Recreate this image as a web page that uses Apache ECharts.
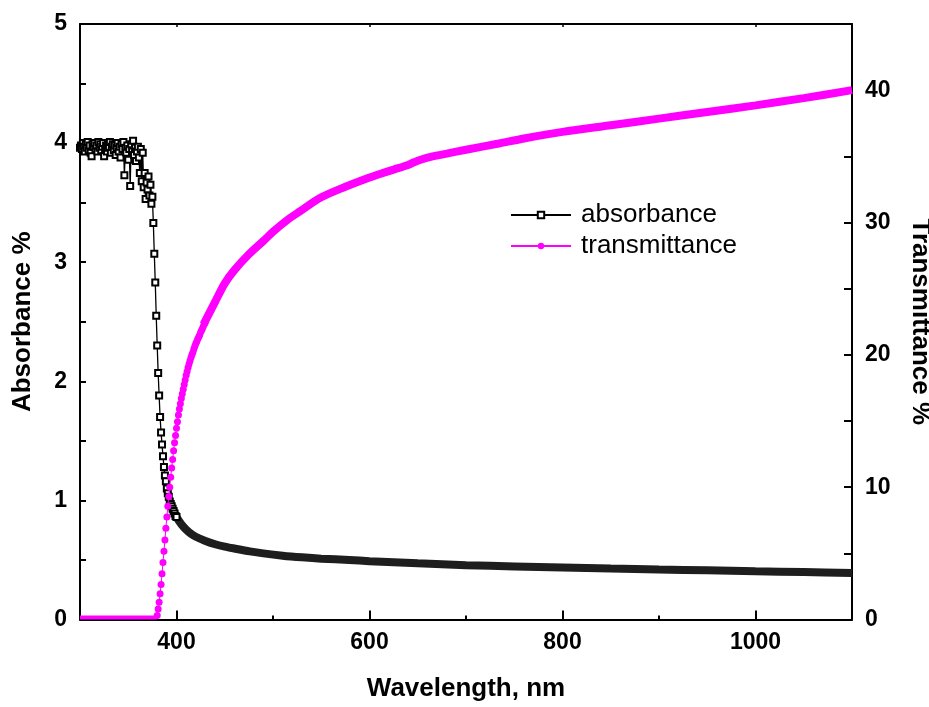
<!DOCTYPE html>
<html>
<head>
<meta charset="utf-8">
<script src="https://cdn.jsdelivr.net/npm/echarts@6.0.0/dist/echarts.min.js"></script>
<style>
html,body{margin:0;padding:0;background:#fff;overflow:hidden;}
#chart{width:929px;height:707px;}
</style>
</head>
<body>
<div id="chart"></div>
<script>
// ---- data ----
// absorbance, individual markers sampled every 1 nm starting at 300 nm
const absPointsStartNm = 300;
const absPointsStepNm = 1;
const absPoints = [
  3.96, 3.98, 3.95, 4.00, 3.97, 3.93, 3.99, 3.96, 4.01, 3.94,
  3.98, 3.92, 3.89, 3.99, 3.97, 4.00, 3.95, 3.98, 3.93, 4.01,
  3.96, 3.99, 3.94, 3.97, 4.00, 3.89, 3.95, 3.98, 3.93, 3.99,
  3.96, 4.01, 3.92, 3.97, 3.99, 3.94, 3.98, 3.90, 3.96, 4.00,
  3.93, 3.97, 3.88, 3.99, 3.95, 4.01, 3.73, 3.96, 3.92, 3.98,
  3.86, 3.95, 3.64, 3.99, 3.93, 4.02, 3.90, 3.96, 3.85, 3.93,
  3.97, 3.88, 3.75, 3.95, 3.68, 3.92, 3.63, 3.75, 3.53, 3.67,
  3.61, 3.72, 3.56, 3.65, 3.49, 3.55, 3.33, 3.07, 2.83, 2.55,
  2.30, 2.07, 1.88, 1.70, 1.57, 1.47, 1.37, 1.28, 1.21, 1.16,
  1.10, 1.06, 1.03, 0.99, 0.97, 0.95, 0.93, 0.91, 0.89, 0.87,
  0.86
];
// absorbance, dense part where the markers merge into a band
const absBandNm  = [396, 400, 405, 410, 415, 420, 430, 441, 450, 460, 476, 490, 510, 530, 550, 579, 600, 650, 700, 750, 800, 850, 900, 950, 1000, 1050, 1100];
const absBandVal = [0.93, 0.86, 0.80, 0.755, 0.72, 0.695, 0.66, 0.63, 0.612, 0.596, 0.572, 0.555, 0.536, 0.522, 0.511, 0.50, 0.49, 0.472, 0.456, 0.446, 0.437, 0.428, 0.42, 0.413, 0.405, 0.398, 0.39];

// transmittance, flat part before the edge
const trFlatNm  = [300, 320, 340, 360, 380];
const trFlatVal = [0.15, 0.15, 0.15, 0.15, 0.15];
// transmittance, individual markers sampled every 1 nm starting at 380 nm
const trPointsStartNm = 380;
const trPointsStepNm = 1;
const trPoints = [
  0.3, 0.8, 1.3, 1.95, 2.65, 3.45, 4.3, 5.15, 6.0, 6.9,
  7.75, 8.55, 9.3, 10.0, 10.75, 11.45, 12.1, 12.75, 13.35, 13.9,
  14.45, 14.95, 15.45, 15.9, 16.3, 16.7, 17.05, 17.4, 17.75, 18.1,
  18.45, 18.75, 19.05, 19.3, 19.55, 19.8, 20.0, 20.2, 20.45, 20.65,
  20.85, 21.0, 21.2, 21.35, 21.5, 21.7, 21.85, 22.0, 22.2, 22.35, 22.5
];
// transmittance, dense band
const trBandNm  = [428, 440, 450, 460, 475, 490, 500, 515, 527, 550, 575, 600, 610, 625, 640, 646, 660, 680, 700, 734, 760, 800, 850, 900, 950, 1000, 1050, 1100];
const trBandVal = [22.3, 24.0, 25.4, 26.4, 27.6, 28.6, 29.3, 30.2, 30.8, 31.9, 32.7, 33.4, 33.65, 34.0, 34.35, 34.55, 34.9, 35.2, 35.5, 35.97, 36.35, 36.85, 37.35, 37.85, 38.35, 38.85, 39.4, 40.0];

// axis ticks / labels
const xMajorTicks = [400, 600, 800, 1000];
const xMinorTicks = [500, 700, 900];
const legendNames = ['absorbance', 'transmittance'];

// ---- build ----
function sampled(start, step, vals) { return vals.map((v, i) => [start + i * step, v]); }
function paired(xs, ys) { return xs.map((x, i) => [x, ys[i]]); }

const FONT = 'Liberation Sans, Arial, Helvetica, sans-serif';
const MAG = '#ff00ff';
const axisLineStyle = { color: '#000', width: 2 };
const labelStyle = { color: '#000', fontSize: 23, fontWeight: 'bold', fontFamily: FONT };
const nameStyle = { color: '#000', fontSize: 26, fontWeight: 'bold', fontFamily: FONT };

const chart = echarts.init(document.getElementById('chart'), null, { renderer: 'canvas', width: 929, height: 707 });
chart.setOption({
  animation: false,
  backgroundColor: '#fff',
  grid: { left: 80, right: 77, top: 24, bottom: 87.5, containLabel: false, outerBoundsMode: 'none' },
  legend: {
    data: legendNames,
    orient: 'vertical',
    left: 505, top: 197,
    itemWidth: 60, itemHeight: 8, itemGap: 5,
    textStyle: { color: '#000', fontSize: 26, fontFamily: FONT, padding: [0, 0, 0, 5] }
  },
  xAxis: [
    {
      type: 'value', min: 300, max: 1100, interval: 100, position: 'bottom',
      name: 'Wavelength, nm', nameLocation: 'middle', nameGap: 56, nameTextStyle: nameStyle,
      axisLine: { lineStyle: axisLineStyle },
      axisTick: { inside: true, length: 9, customValues: xMajorTicks, lineStyle: { color: '#000', width: 2 } },
      axisLabel: Object.assign({ customValues: xMajorTicks, margin: 12, formatter: v => String(v) }, labelStyle),
      splitLine: { show: false }
    },
    {
      type: 'value', min: 300, max: 1100, interval: 100, position: 'bottom',
      axisLine: { show: false },
      axisTick: { inside: true, length: 4, customValues: xMinorTicks, lineStyle: { color: '#000', width: 2 } },
      axisLabel: { show: false },
      splitLine: { show: false }
    },
    {
      type: 'value', min: 300, max: 1100, interval: 100, position: 'top',
      axisLine: { lineStyle: axisLineStyle },
      axisTick: { inside: true, length: 3, customValues: xMajorTicks, lineStyle: { color: '#000', width: 1.5 } },
      axisLabel: { show: false },
      splitLine: { show: false }
    }
  ],
  yAxis: [
    {
      type: 'value', min: 0, max: 5, interval: 0.5, position: 'left',
      name: 'Absorbance %', nameLocation: 'middle', nameGap: 44, nameTextStyle: nameStyle,
      axisLine: { lineStyle: axisLineStyle },
      axisTick: { inside: true, length: 6, lineStyle: { color: '#000', width: 2 } },
      axisLabel: Object.assign({ margin: 13, formatter: v => (Number.isInteger(v) ? String(v) : '') }, labelStyle),
      splitLine: { show: false }
    },
    {
      type: 'value', min: 0, max: 45, interval: 5, position: 'right',
      name: 'Transmittance %', nameLocation: 'middle', nameRotate: -90, nameGap: 55, nameTextStyle: nameStyle,
      axisLine: { lineStyle: axisLineStyle },
      axisTick: { inside: true, length: 8, lineStyle: { color: '#000', width: 2 } },
      axisLabel: Object.assign({ margin: 13, formatter: v => (v % 10 === 0 ? String(v) : '') }, labelStyle),
      splitLine: { show: false }
    }
  ],
  series: [
    {
      name: 'absorbance', type: 'line', xAxisIndex: 0, yAxisIndex: 0,
      data: sampled(absPointsStartNm, absPointsStepNm, absPoints),
      symbol: 'emptyRect', symbolSize: 6, showAllSymbol: true,
      lineStyle: { color: '#000', width: 1.3 },
      itemStyle: { color: '#000', borderColor: '#000', borderWidth: 1 },
      z: 3
    },
    {
      name: 'absorbance band', type: 'line', xAxisIndex: 0, yAxisIndex: 0,
      data: paired(absBandNm, absBandVal),
      symbol: 'none', smooth: 0.3,
      lineStyle: { color: '#1e1e1e', width: 8 },
      z: 2
    },
    {
      name: 'transmittance', type: 'line', xAxisIndex: 0, yAxisIndex: 1,
      data: sampled(trPointsStartNm, trPointsStepNm, trPoints),
      symbol: 'circle', symbolSize: 7, showAllSymbol: true,
      lineStyle: { color: MAG, width: 1 },
      itemStyle: { color: MAG },
      z: 5
    },
    {
      name: 'transmittance flat', type: 'line', xAxisIndex: 0, yAxisIndex: 1,
      data: paired(trFlatNm, trFlatVal),
      symbol: 'none',
      lineStyle: { color: MAG, width: 4 },
      z: 4
    },
    {
      name: 'transmittance band', type: 'line', xAxisIndex: 0, yAxisIndex: 1,
      data: paired(trBandNm, trBandVal),
      symbol: 'none', smooth: 0.3,
      lineStyle: { color: MAG, width: 8 },
      z: 4
    }
  ]
});
</script>
</body>
</html>
